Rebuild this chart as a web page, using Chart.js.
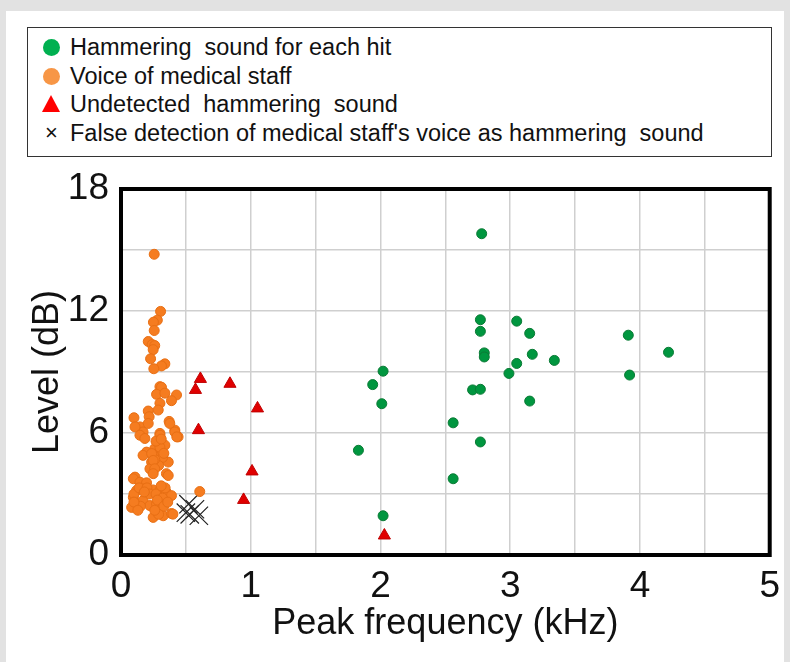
<!DOCTYPE html>
<html>
<head>
<meta charset="utf-8">
<title>Peak frequency vs level</title>
<script src="https://cdn.jsdelivr.net/npm/chart.js@4"></script>
<style>
  html, body { margin: 0; padding: 0; }
  body { width: 790px; height: 662px; background: #e2e2e2; position: relative; overflow: hidden;
         font-family: "Liberation Sans", Arial, sans-serif; }
  #panel { position: absolute; left: 6px; top: 11px; width: 778px; height: 651px; background: #fff; }
  #chart { position: absolute; left: 0; top: 0; }
  #legend { position: absolute; left: 27px; top: 27px; width: 743px; height: 123px;
            border: 1px solid #333; box-sizing: content-box; padding-top: 5px; }
  .row { height: 28.5px; line-height: 28.5px; font-size: 23.5px; color: #111; position: relative;
         padding-left: 42px; white-space: nowrap; }
  .mk { position: absolute; left: 15px; top: 6px; width: 17px; height: 17px; }
  .dot { border-radius: 50%; }
  .tri { width: 0; height: 0; border-left: 9px solid transparent; border-right: 9px solid transparent;
         border-bottom: 17px solid #ff0000; left: 14px; top: 5px; }
  .cross { left: 17px; top: 0; width: auto; height: auto; font-size: 22px; line-height: 28px; }
</style>
</head>
<body>
<div id="panel"></div>
<div id="legend"></div>
<canvas id="chart" width="790" height="662"></canvas>
<script>
// legend texts, same order as the datasets
const seriesLabels = [
  'Hammering  sound for each hit',
  'Voice of medical staff',
  'Undetected  hammering  sound',
  "False detection of medical staff's voice as hammering  sound"
];

// [peak frequency kHz, level dB]
const hammerHits = [
  [2.78, 15.8], [2.77, 11.57], [2.77, 11.0], [3.05, 11.5], [3.15, 10.9],
  [2.80, 9.94], [2.80, 9.74], [3.17, 9.87], [3.34, 9.57], [3.05, 9.42],
  [2.99, 8.93], [3.91, 10.81], [4.22, 9.97], [3.92, 8.85], [2.02, 9.04],
  [1.94, 8.38], [2.01, 7.44], [2.71, 8.12], [2.77, 8.15], [3.15, 7.57],
  [2.56, 6.50], [2.77, 5.56], [1.83, 5.15], [2.56, 3.75], [2.02, 1.93]
];

const staffVoice = [
  [0.256, 14.79], [0.305, 11.98], [0.28, 11.55], [0.25, 11.45], [0.256, 11.04],
  [0.21, 10.5], [0.24, 10.35], [0.26, 10.3], [0.248, 10.1], [0.228, 9.65],
  [0.338, 9.4], [0.312, 9.3], [0.253, 9.16],
  [0.30, 8.28], [0.312, 8.25], [0.274, 7.9], [0.338, 7.96], [0.428, 7.87],
  [0.389, 7.59], [0.30, 7.46], [0.287, 7.13], [0.21, 7.08], [0.217, 6.8],
  [0.10, 6.75], [0.371, 6.57], [0.146, 6.3], [0.17, 6.05], [0.30, 5.98],
  [0.415, 6.14], [0.44, 5.81],
  [0.108, 6.30], [0.21, 6.47], [0.376, 6.47], [0.146, 5.89], [0.184, 5.73],
  [0.30, 5.89], [0.415, 6.05], [0.43, 5.81], [0.287, 5.56], [0.26, 5.23],
  [0.197, 5.06], [0.313, 5.15], [0.338, 5.40], [0.274, 4.82], [0.236, 4.57],
  [0.364, 4.57], [0.223, 4.24], [0.35, 4.0], [0.108, 3.83],
  [0.28, 5.0], [0.30, 5.3], [0.27, 5.6], [0.32, 4.8], [0.25, 4.9],
  [0.29, 4.4], [0.26, 4.7], [0.31, 5.7], [0.33, 5.0],
  [0.17, 4.90], [0.236, 4.99], [0.248, 4.65], [0.26, 4.24], [0.248, 4.0],
  [0.364, 3.91], [0.095, 3.75], [0.146, 3.58], [0.197, 3.55], [0.12, 3.17],
  [0.17, 3.25], [0.248, 3.20], [0.30, 3.17], [0.35, 3.08], [0.389, 2.92],
  [0.095, 2.84], [0.12, 2.51], [0.082, 2.34], [0.17, 2.67], [0.223, 2.43],
  [0.274, 2.51], [0.30, 2.18], [0.248, 1.85], [0.325, 1.93], [0.389, 2.04],
  [0.607, 3.12], [0.40, 2.01],
  [0.10, 3.0], [0.14, 3.3], [0.20, 3.3], [0.22, 3.0], [0.27, 3.0],
  [0.32, 2.8], [0.28, 2.7], [0.33, 2.4], [0.29, 2.0], [0.26, 2.2],
  [0.15, 2.4], [0.10, 2.6], [0.18, 3.1], [0.34, 3.3], [0.13, 2.2],
  [0.36, 2.6], [0.31, 3.4]
];

const undetectedHits = [
  [0.612, 8.66], [0.574, 8.12], [0.84, 8.42], [1.052, 7.21],
  [0.597, 6.14], [1.01, 4.11], [0.945, 2.71], [2.03, 0.96]
];

const falseDetections = [
  [0.52, 2.5], [0.57, 2.25], [0.53, 2.0], [0.60, 1.93], [0.50, 2.08]
];

const xTicksShown = [0, 1, 2, 3, 4, 5];
const yTicksShown = [0, 6, 12, 18];

const toXY = arr => arr.map(p => ({ x: p[0], y: p[1] }));

// legend (html, so it can sit in its own box above the plot)
const legendMarks = [
  '<span class="mk dot" style="background:#00b050"></span>',
  '<span class="mk dot" style="background:#f79646"></span>',
  '<span class="mk tri"></span>',
  '<span class="mk cross">&times;</span>'
];
document.getElementById('legend').innerHTML = seriesLabels
  .map((t, i) => '<div class="row">' + legendMarks[i] + t.replace(/  /g, '&nbsp; ') + '</div>')
  .join('');

const frame = {
  id: 'frame',
  beforeDatasetsDraw(chart) {
    const { ctx, chartArea: a } = chart;
    ctx.save();
    ctx.strokeStyle = '#000';
    ctx.lineWidth = 4;
    ctx.strokeRect(a.left, a.top, a.right - a.left, a.bottom - a.top);
    ctx.restore();
  }
};

const font = 'Liberation Sans';

new Chart(document.getElementById('chart'), {
  type: 'scatter',
  data: {
    datasets: [
      {
        label: seriesLabels[1], data: toXY(staffVoice), pointStyle: 'circle', pointRadius: 5,
        backgroundColor: '#f57c20', borderColor: '#e86f14', borderWidth: 1
      },
      {
        label: seriesLabels[0], data: toXY(hammerHits), pointStyle: 'circle', pointRadius: 5,
        backgroundColor: '#00963f', borderColor: '#0a7a35', borderWidth: 1
      },
      {
        label: seriesLabels[2], data: toXY(undetectedHits), pointStyle: 'triangle', pointRadius: 7,
        backgroundColor: '#e00000', borderColor: '#c00000', borderWidth: 1
      },
      {
        label: seriesLabels[3], data: toXY(falseDetections), pointStyle: 'crossRot', pointRadius: 13,
        borderColor: '#222', borderWidth: 1.2
      }
    ]
  },
  options: {
    responsive: false,
    animation: false,
    events: [],
    layout: { padding: { top: 189, right: 18, left: 0, bottom: 0 } },
    plugins: { legend: { display: false }, tooltip: { enabled: false } },
    scales: {
      x: {
        min: 0, max: 5,
        afterFit(s) { s.height = 107; },
        grid: { color: '#cfcfcf', lineWidth: 1.5, drawTicks: false },
        border: { display: false },
        ticks: {
          stepSize: 0.5, padding: 10, color: '#111', maxRotation: 0, autoSkip: false,
          font: { family: font, size: 37 },
          callback: v => xTicksShown.includes(v) ? String(v) : ''
        },
        title: {
          display: true, text: 'Peak frequency (kHz)', color: '#111',
          font: { family: font, size: 36 }, padding: { top: 0, bottom: 16 }
        }
      },
      y: {
        min: 0, max: 18,
        afterFit(s) { s.width = 121; },
        grid: { color: '#cfcfcf', lineWidth: 1.5, drawTicks: false },
        border: { display: false },
        ticks: {
          stepSize: 3, padding: 12, color: '#111', autoSkip: false,
          font: { family: font, size: 37 },
          callback: v => yTicksShown.includes(v) ? String(v) : ''
        },
        title: {
          display: true, text: 'Level (dB)', color: '#111',
          font: { family: font, size: 36 }, padding: { top: 26, bottom: 0 }
        }
      }
    }
  },
  plugins: [frame]
});
</script>
</body>
</html>
